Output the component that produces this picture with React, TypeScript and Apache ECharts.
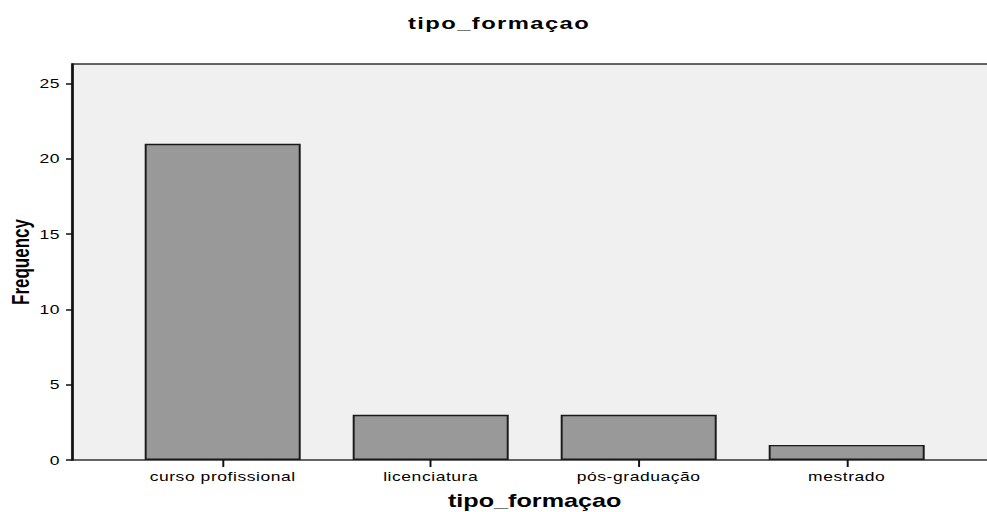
import React, { useEffect, useRef } from "react";
import * as echarts from "echarts";

const categories = ["curso profissional", "licenciatura", "pós-graduação", "mestrado"];
const frequencies = [21, 3, 3, 1];
const yTickValues = [0, 5, 10, 15, 20, 25];
const chartTitle = "tipo_formaçao";
const xAxisTitle = "tipo_formaçao";
const yAxisTitle = "Frequency";
const yMax = 26.3;

// the reference picture is stretched horizontally; draw at a narrower width and stretch
const STRETCH = 1.4;
const W = Math.round(987 / STRETCH) + 20;
const px = (v: number) => v / STRETCH;

export default function App() {
  const ref = useRef<HTMLDivElement>(null);
  useEffect(() => {
    document.documentElement.style.overflow = "hidden";
    document.body.style.overflow = "hidden";
    const el = ref.current as HTMLDivElement;
    const chart = echarts.init(el, null, { renderer: "svg" });
    const font = "'Liberation Sans', Arial, sans-serif";
    const band = px(208);
    const firstCenter = px(222.7);
    const plotLeft = px(72);
    const plotTop = 64;
    const plotBottom = 52;
    chart.setOption({
      animation: false,
      backgroundColor: "#ffffff",
      title: {
        text: chartTitle,
        left: px(401),
        top: 9,
        textStyle: { fontFamily: font, fontWeight: "bold", fontSize: 17, color: "#000" },
      },
      graphic: [
        {
          type: "rect",
          z: -1,
          silent: true,
          shape: { x: plotLeft, y: plotTop, width: W + 40, height: 512 - plotTop - plotBottom },
          style: { fill: "#F0F0F0", stroke: "#333", lineWidth: 1.5 },
        },
      ],
      grid: [
        {
          left: plotLeft,
          top: plotTop,
          right: 0,
          bottom: plotBottom,
          containLabel: false,
          outerBoundsMode: "none",
          show: false,
        },
        {
          left: firstCenter - band / 2,
          top: plotTop,
          width: band * 4,
          bottom: plotBottom,
          containLabel: false,
          outerBoundsMode: "none",
        },
      ],
      xAxis: [
        {
          type: "value",
          gridIndex: 0,
          min: 0,
          max: 1,
          axisLine: { show: false },
          axisTick: { show: false },
          axisLabel: { show: false },
          splitLine: { show: false },
        },
        {
          type: "category",
          gridIndex: 1,
          data: categories,
          boundaryGap: true,
          axisLine: { show: false },
          axisTick: { show: true, alignWithLabel: true, length: 7, lineStyle: { color: "#111", width: 1.4 } },
          axisLabel: { margin: 10, fontFamily: font, fontSize: 12.5, color: "#000" },
          name: xAxisTitle,
          nameLocation: "middle",
          nameGap: 32,
          nameMoveOverlap: false,
          nameTextStyle: { fontFamily: font, fontWeight: "bold", fontSize: 18, color: "#000" },
        },
      ],
      yAxis: [
        {
          type: "value",
          gridIndex: 0,
          min: 0,
          max: yMax,
          interval: 5,
          axisLine: { show: true, lineStyle: { color: "#111", width: 1.5 } },
          axisTick: { show: true, length: px(6), customValues: yTickValues, lineStyle: { color: "#111", width: 1.5 } },
          axisLabel: { customValues: yTickValues, margin: px(12), fontFamily: font, fontSize: 12.5, color: "#000" },
          splitLine: { show: false },
          name: yAxisTitle,
          nameLocation: "middle",
          nameGap: 28.5,
          nameMoveOverlap: false,
          nameTextStyle: { fontFamily: font, fontWeight: "bold", fontSize: 17, color: "#000" },
        },
        { type: "value", gridIndex: 1, min: 0, max: yMax, show: false },
      ],
      series: [
        {
          type: "bar",
          xAxisIndex: 1,
          yAxisIndex: 1,
          data: frequencies,
          barWidth: "75%",
          itemStyle: { color: "#999999", borderColor: "#1a1a1a", borderWidth: 1.4 },
        },
      ],
    });
    const applySpacing = () => {
      const texts = Array.from(el.querySelectorAll("text"));
      const t = texts
        .filter((n) => n.textContent === chartTitle)
        .sort((a, b) => a.getBoundingClientRect().top - b.getBoundingClientRect().top);
      if (t[0]) t[0].setAttribute("letter-spacing", "1px");
      if (t[1]) t[1].setAttribute("letter-spacing", "0px");
      texts.filter((n) => n.textContent === yAxisTitle).forEach((n) => n.setAttribute("letter-spacing", "0px"));
    };
    applySpacing();
    chart.on("finished", applySpacing);
    return () => {
      chart.dispose();
    };
  }, []);
  return (
    <div style={{ position: "fixed", left: 0, top: 0, width: 987, height: 512, background: "#fff" }}>
      <div
        ref={ref}
        style={{
          width: W,
          height: 512,
          transform: `scaleX(${STRETCH})`,
          transformOrigin: "0 0",
          letterSpacing: "0.4px",
        }}
      />
    </div>
  );
}
